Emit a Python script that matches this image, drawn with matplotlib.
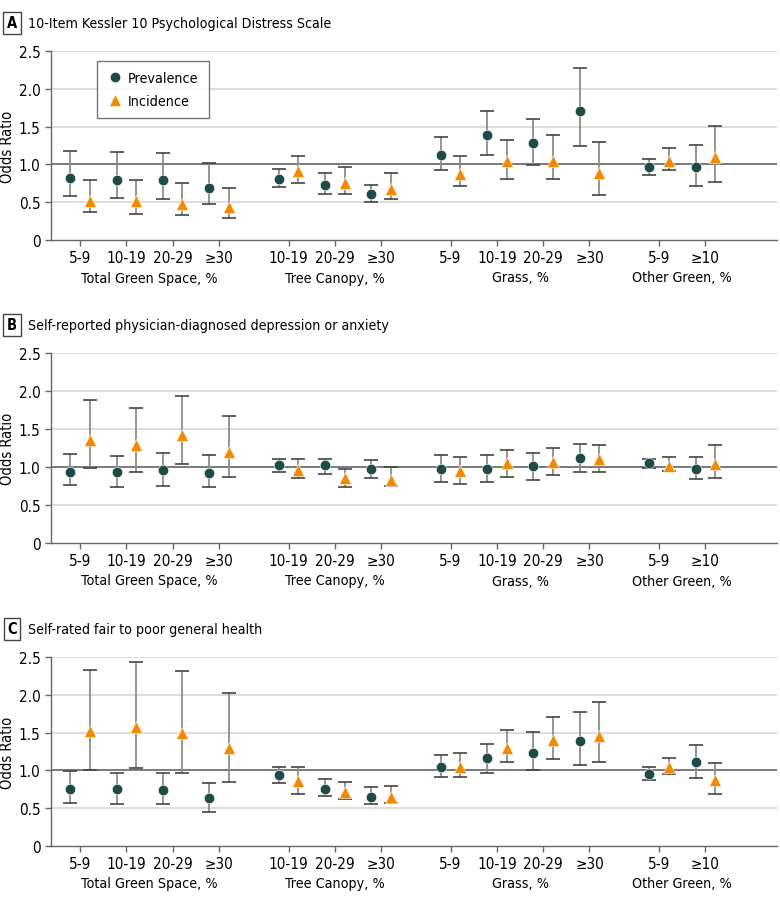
import numpy as np
import matplotlib
matplotlib.use("Agg")
import matplotlib.pyplot as plt

plt.rcParams.update({
    "font.family": ["DejaVu Sans"],
    "font.stretch": "condensed",
    "font.size": 10,
    "axes.linewidth": 1.0,
})

# category labels / positions of groups
tick_labels = ["5-9", "10-19", "20-29", "≥30",
               "10-19", "20-29", "≥30",
               "5-9", "10-19", "20-29", "≥30",
               "5-9", "≥10"]
group_names = ["Total Green Space, %", "Tree Canopy, %", "Grass, %", "Other Green, %"]
group_sizes = [4, 3, 4, 2]

titles = ["10-Item Kessler 10 Psychological Distress Scale",
          "Self-reported physician-diagnosed depression or anxiety",
          "Self-rated fair to poor general health"]
letters = ["A", "B", "C"]

# Panel A
a_prev = [0.82, 0.80, 0.79, 0.69, 0.81, 0.73, 0.61, 1.13, 1.39, 1.28, 1.71, 0.97, 0.97]
a_prev_lo = [0.58, 0.56, 0.54, 0.47, 0.70, 0.61, 0.50, 0.93, 1.12, 0.99, 1.25, 0.86, 0.72]
a_prev_hi = [1.18, 1.17, 1.15, 1.02, 0.94, 0.88, 0.73, 1.36, 1.70, 1.60, 2.28, 1.07, 1.26]
a_inc = [0.52, 0.51, 0.48, 0.44, 0.91, 0.75, 0.67, 0.87, 1.04, 1.05, 0.88, 1.04, 1.10]
a_inc_lo = [0.37, 0.35, 0.33, 0.29, 0.76, 0.61, 0.54, 0.71, 0.81, 0.81, 0.59, 0.92, 0.77]
a_inc_hi = [0.80, 0.79, 0.75, 0.69, 1.11, 0.96, 0.88, 1.11, 1.32, 1.39, 1.30, 1.22, 1.51]

# Panel B
b_prev = [0.93, 0.93, 0.96, 0.92, 1.02, 1.03, 0.97, 0.98, 0.98, 1.01, 1.12, 1.05, 0.98]
b_prev_lo = [0.76, 0.74, 0.75, 0.74, 0.93, 0.91, 0.86, 0.80, 0.80, 0.83, 0.94, 0.99, 0.84]
b_prev_hi = [1.17, 1.14, 1.18, 1.16, 1.11, 1.11, 1.09, 1.16, 1.16, 1.19, 1.30, 1.11, 1.13]
b_inc = [1.36, 1.29, 1.42, 1.20, 0.96, 0.85, 0.83, 0.95, 1.05, 1.07, 1.11, 1.01, 1.04]
b_inc_lo = [0.99, 0.94, 1.04, 0.87, 0.86, 0.74, 0.75, 0.78, 0.87, 0.89, 0.93, 0.95, 0.86]
b_inc_hi = [1.88, 1.78, 1.93, 1.67, 1.11, 0.97, 1.00, 1.13, 1.22, 1.25, 1.29, 1.13, 1.29]

# Panel C
c_prev = [0.76, 0.76, 0.74, 0.63, 0.94, 0.76, 0.65, 1.05, 1.16, 1.23, 1.39, 0.95, 1.11]
c_prev_lo = [0.57, 0.55, 0.55, 0.45, 0.83, 0.66, 0.56, 0.91, 0.96, 1.00, 1.07, 0.87, 0.90]
c_prev_hi = [0.99, 0.96, 0.96, 0.83, 1.04, 0.88, 0.78, 1.20, 1.35, 1.51, 1.77, 1.04, 1.34]
c_inc = [1.52, 1.58, 1.50, 1.30, 0.86, 0.71, 0.65, 1.05, 1.30, 1.40, 1.45, 1.04, 0.87]
c_inc_lo = [1.00, 1.03, 0.96, 0.84, 0.69, 0.62, 0.57, 0.91, 1.11, 1.15, 1.11, 0.95, 0.69]
c_inc_hi = [2.33, 2.43, 2.32, 2.03, 1.04, 0.85, 0.80, 1.23, 1.54, 1.70, 1.90, 1.16, 1.10]

panels = [
    (a_prev, a_prev_lo, a_prev_hi, a_inc, a_inc_lo, a_inc_hi),
    (b_prev, b_prev_lo, b_prev_hi, b_inc, b_inc_lo, b_inc_hi),
    (c_prev, c_prev_lo, c_prev_hi, c_inc, c_inc_lo, c_inc_hi),
]

# x positions: groups separated by an extra gap
xpos = []
start = 0.0
for size in group_sizes:
    xpos.extend(start + np.arange(size))
    start += size + 0.5
xpos = np.array(xpos)

PREV_C = "#1e4a48"
INC_C = "#f28a00"
BAR_C = "#8c8c8c"
CAP_C = "#444444"
off = 0.21

W, H = 780, 904
fig = plt.figure(figsize=(W / 100, H / 100), dpi=100)

# (top, bottom) of each axes in pixels
ax_px = [(52, 241), (354, 544), (658, 847)]
title_y = [24, 326, 630]
left_px, right_px = 51, 777


def draw_ci(ax, x, y, lo, hi):
    eb = ax.errorbar(x, y, yerr=[np.array(y) - np.array(lo), np.array(hi) - np.array(y)],
                     fmt="none", ecolor=BAR_C, elinewidth=1.3, capsize=5, capthick=1.2,
                     zorder=3)
    for cl in eb[1]:
        cl.set_markeredgecolor(CAP_C)


for i, (prev, prev_lo, prev_hi, inc, inc_lo, inc_hi) in enumerate(panels):
    top, bot = ax_px[i]
    ax = fig.add_axes([left_px / W, 1 - bot / H, (right_px - left_px) / W, (bot - top) / H])

    for gy in [0.5, 1.5, 2.0, 2.5]:
        ax.axhline(gy, color="#d9d9d9", lw=1.3, zorder=0)
    ax.axhline(1.0, color="#555555", lw=1.1, zorder=1)

    draw_ci(ax, xpos - off, prev, prev_lo, prev_hi)
    draw_ci(ax, xpos + off, inc, inc_lo, inc_hi)
    ax.plot(xpos - off, prev, "o", color=PREV_C, ms=7.5, mec="white", mew=0.4,
            zorder=4, label="Prevalence", linestyle="none")
    ax.plot(xpos + off, inc, "^", color=INC_C, ms=9, mec="white", mew=0.4,
            zorder=4, label="Incidence", linestyle="none")

    ax.set_xlim(-0.63, 15.05)
    ax.set_ylim(0, 2.5)
    ax.set_yticks([0, 0.5, 1.0, 1.5, 2.0, 2.5])
    ax.set_yticklabels(["0", "0.5", "1.0", "1.5", "2.0", "2.5"])
    ax.set_xticks(xpos)
    ax.set_xticklabels(tick_labels)
    ax.tick_params(axis="both", labelsize=11, color="#666666", length=4, width=1)
    ax.tick_params(axis="x", pad=3)
    ax.set_ylabel("Odds Ratio", fontsize=10.5)
    ax.yaxis.set_label_coords(-0.05, 0.5)
    for s in ["top", "right"]:
        ax.spines[s].set_visible(False)
    for s in ["left", "bottom"]:
        ax.spines[s].set_color("#666666")

    k = 0
    for name, size in zip(group_names, group_sizes):
        cx = xpos[k:k + size].mean()
        ax.annotate(name, xy=(cx, 0), xycoords=("data", "axes fraction"),
                    xytext=(0, -27), textcoords="offset points",
                    ha="center", va="center", fontsize=10.3)
        k += size

    fig.text(12 / W, 1 - title_y[i] / H, letters[i], ha="center", va="center",
             fontsize=10.5, fontweight="bold",
             bbox=dict(boxstyle="square,pad=0.25", fc="white", ec="#444444", lw=1))
    fig.text(28 / W, 1 - title_y[i] / H, titles[i], ha="left", va="center", fontsize=10.2)

    if i == 0:
        leg = ax.legend(loc="upper left", bbox_to_anchor=(0.063, 0.947), frameon=True,
                        fancybox=False, edgecolor="#555555", fontsize=10.3,
                        borderpad=0.7, labelspacing=0.6, handletextpad=0.3,
                        handlelength=1.2, borderaxespad=0)
        leg.get_frame().set_linewidth(1.0)

fig.savefig("out.png", dpi=100)
